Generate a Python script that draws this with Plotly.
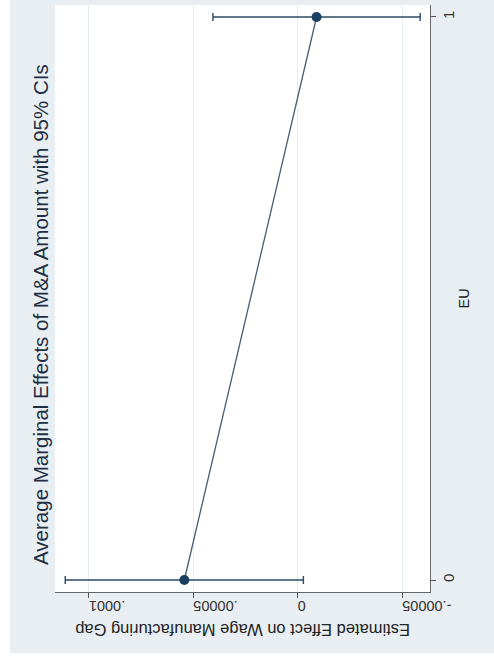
import plotly.graph_objects as go

# Average marginal effects by EU membership, with 95% confidence intervals
eu_levels = [0, 1]
effects = [0.0000543, -0.0000090]
ci_halfwidth = [0.0000570, 0.0000496]

effect_ticks = [0.0001, 0.00005, 0, -0.00005]
effect_ticktext = [".0001", ".00005", "0", "-.00005"]
eu_ticks = [0, 1]
eu_ticktext = ["0", "1"]

title_text = "Average Marginal Effects of M&A Amount with 95% CIs"
effect_title = "Estimated Effect on Wage Manufacturing Gap"
eu_title = "EU"

BG = "#e8eef1"
NAVY = "#1a3e5f"
FONT = "Liberation Sans, Arial, sans-serif"

fig = go.Figure()
fig.add_trace(go.Scatter(
    x=effects,
    y=eu_levels,
    mode="lines+markers",
    line=dict(color="#4a5c6e", width=1.3),
    marker=dict(color=NAVY, size=10),
    error_x=dict(type="data", array=ci_halfwidth, symmetric=True,
                 color="#2c4a66", thickness=1.4, width=4),
    showlegend=False,
))

fig.update_layout(
    width=494, height=663,
    margin=dict(l=55, r=64, t=5, b=71),
    paper_bgcolor=BG,
    plot_bgcolor="white",
    font=dict(family=FONT, color="#333333"),
    xaxis=dict(
        range=[0.0001162, -0.0000633],
        tickvals=effect_ticks, ticktext=effect_ticktext,
        tickangle=180, tickfont=dict(size=14.5, color="#333333"),
        ticks="outside", ticklen=5, tickcolor="#555555",
        showgrid=True, gridcolor="#e6edf0", gridwidth=1,
        zeroline=False,
        showline=True, linecolor="#666666", linewidth=1.2,
    ),
    yaxis=dict(
        range=[-0.0213, 1.0213], side="right",
        tickvals=eu_ticks, ticktext=eu_ticktext,
        tickangle=-90, tickfont=dict(size=15, color="#333333"),
        ticks="outside", ticklen=5, tickcolor="#555555",
        showgrid=False, zeroline=False,
        showline=True, linecolor="#666666", linewidth=1.2,
    ),
    annotations=[
        dict(text=title_text, xref="paper", yref="paper",
             x=-0.0373, y=0.472, xanchor="center", yanchor="middle",
             textangle=-90, showarrow=False,
             font=dict(size=20.5, color="#1e2f44")),
        dict(text=effect_title, xref="paper", yref="paper",
             x=0.5, y=-0.0647, xanchor="center", yanchor="middle",
             textangle=180, showarrow=False,
             font=dict(size=16.5, color="#222222")),
        dict(text=eu_title, xref="paper", yref="paper",
             x=1.088, y=0.5, xanchor="center", yanchor="middle",
             textangle=-90, showarrow=False,
             font=dict(size=14.5, color="#222222")),
    ],
    shapes=[
        # white border strips around the graph region
        dict(type="rect", xref="paper", yref="paper",
             x0=-0.2, x1=-0.12, y0=-0.2, y1=1.1,
             fillcolor="white", line=dict(width=0), layer="above"),
        dict(type="rect", xref="paper", yref="paper",
             x0=-0.2, x1=1.3, y0=-0.2, y1=-0.1039,
             fillcolor="white", line=dict(width=0), layer="above"),
    ],
)

fig.write_html("out.html")
